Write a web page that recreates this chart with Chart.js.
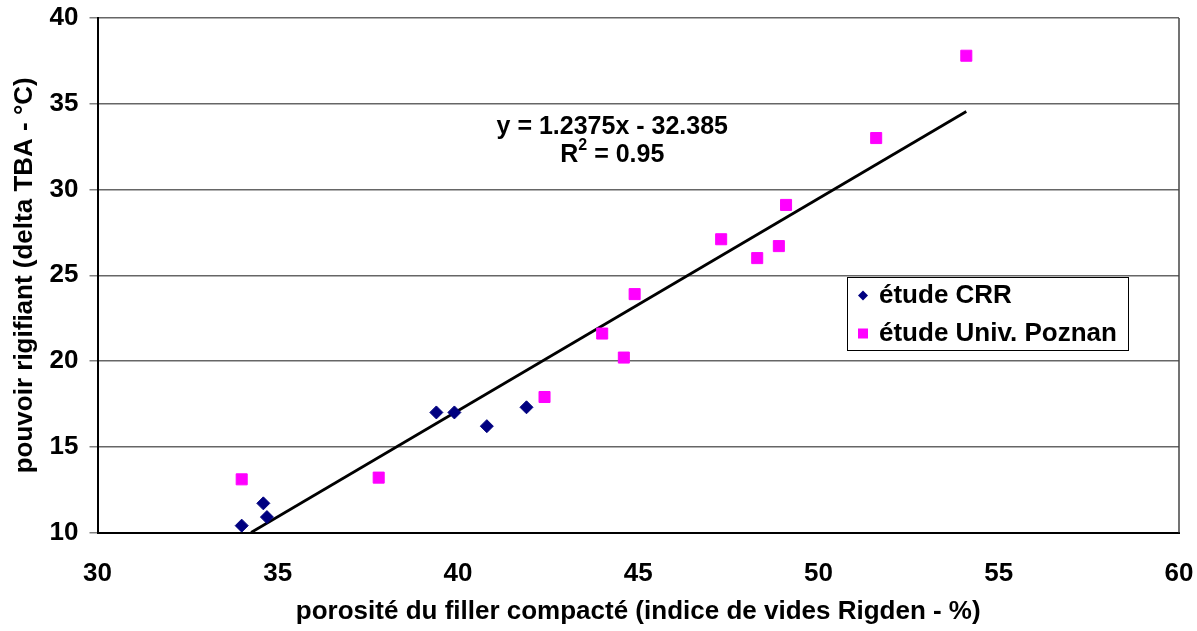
<!DOCTYPE html>
<html>
<head>
<meta charset="utf-8">
<script src="https://cdn.jsdelivr.net/npm/chart.js@4/dist/chart.umd.min.js"></script>
<style>
    html, body { margin: 0; padding: 0; background: #fff; }
    #wrap { width: 1197px; height: 631px; position: relative; }
</style>
</head>
<body>
<div id="wrap"><canvas id="chart"></canvas></div>
<script>
// Data
const crrX = [34.0, 34.6, 34.7, 39.4, 39.9, 40.8, 41.9];
const crrY = [10.4, 11.7, 10.9, 17.0, 17.0, 16.2, 17.3];

const poznanX = [34.0, 37.8, 42.4, 44.0, 44.6, 44.9, 47.3, 48.3, 48.9, 49.1, 51.6, 54.1];
const poznanY = [13.1, 13.2, 17.9, 21.6, 20.2, 23.9, 27.1, 26.0, 26.7, 29.1, 33.0, 37.8];

// linear trend end points
const trendX = [34.26, 54.1];
const trendY = [10.0, 34.55];

const xTicks = [30, 35, 40, 45, 50, 55, 60];
const yTicks = [10, 15, 20, 25, 30, 35, 40];

const seriesNames = ['étude CRR', 'étude Univ. Poznan'];
const equationLines = ['y = 1.2375x - 32.385', 'R', '2', ' = 0.95'];

const toPoints = (xs, ys) => xs.map((x, i) => ({ x: x, y: ys[i] }));

const FONT = "'Liberation Sans', Arial, sans-serif";

// Equation label + legend box, drawn after datasets
const overlay = {
    id: 'overlay',
    afterDraw(chart) {
        const ctx = chart.ctx;
        const xs = chart.scales.x, ys = chart.scales.y;
        ctx.save();
        ctx.fillStyle = '#000';
        ctx.font = 'bold 25px ' + FONT;
        ctx.textAlign = 'center';
        ctx.textBaseline = 'middle';
        const cx = xs.getPixelForValue(44.28);
        ctx.fillText(equationLines[0], cx, ys.getPixelForValue(33.65));

        // R² line with superscript
        const y2 = ys.getPixelForValue(31.98);
        const wR = ctx.measureText(equationLines[1]).width;
        const wRest = ctx.measureText(equationLines[3]).width;
        ctx.font = 'bold 16px ' + FONT;
        const wSup = ctx.measureText(equationLines[2]).width;
        let left = cx - (wR + wSup + wRest) / 2;
        ctx.textAlign = 'left';
        ctx.font = 'bold 25px ' + FONT;
        ctx.fillText(equationLines[1], left, y2);
        ctx.font = 'bold 16px ' + FONT;
        ctx.fillText(equationLines[2], left + wR, y2 - 10);
        ctx.font = 'bold 25px ' + FONT;
        ctx.fillText(equationLines[3], left + wR + wSup, y2);

        // legend
        const bx = 847.5, by = 277.5, bw = 281, bh = 73;
        ctx.fillStyle = '#fff';
        ctx.fillRect(bx, by, bw, bh);
        ctx.strokeStyle = '#000';
        ctx.lineWidth = 1;
        ctx.strokeRect(bx, by, bw, bh);

        const rows = [by + 18, by + 56];
        // diamond
        ctx.fillStyle = '#000080';
        ctx.beginPath();
        ctx.moveTo(863, rows[0] - 5);
        ctx.lineTo(868, rows[0]);
        ctx.lineTo(863, rows[0] + 5);
        ctx.lineTo(858, rows[0]);
        ctx.closePath();
        ctx.fill();
        // square
        ctx.fillStyle = '#ff00ff';
        ctx.fillRect(858, rows[1] - 5, 10, 10);

        ctx.fillStyle = '#000';
        ctx.font = 'bold 26px ' + FONT;
        ctx.textAlign = 'left';
        ctx.fillText(seriesNames[0], 879, rows[0]);
        ctx.fillText(seriesNames[1], 879, rows[1]);
        ctx.restore();
    }
};

const chart = new Chart(document.getElementById('chart'), {
    type: 'scatter',
    data: {
        datasets: [{
            label: seriesNames[0],
            data: toPoints(crrX, crrY),
            pointStyle: 'rectRot',
            pointRadius: 6.5,
            pointHoverRadius: 6.5,
            backgroundColor: '#000080',
            borderColor: '#000080',
            borderWidth: 1
        }, {
            label: seriesNames[1],
            data: toPoints(poznanX, poznanY),
            pointStyle: 'rect',
            pointRadius: 7.8,
            pointHoverRadius: 7.8,
            backgroundColor: '#ff00ff',
            borderColor: '#ff00ff',
            borderWidth: 1
        }, {
            label: 'trend',
            data: toPoints(trendX, trendY),
            showLine: true,
            pointRadius: 0,
            borderColor: '#000',
            borderWidth: 2.8
        }]
    },
    options: {
        responsive: true,
        maintainAspectRatio: false,
        animation: false,
        layout: { padding: { top: 18, right: 18, left: 0, bottom: 0 } },
        plugins: {
            legend: { display: false },
            tooltip: { enabled: false }
        },
        scales: {
            x: {
                type: 'linear',
                min: 30, max: 60,
                afterBuildTicks: s => { s.ticks = xTicks.map(v => ({ value: v })); },
                afterFit: s => { s.height = 98.5; s.paddingLeft = 0; s.paddingRight = 0; },
                grid: { display: false, drawOnChartArea: false, tickLength: 8, tickColor: '#808080', tickWidth: 1.5 },
                border: { color: '#000', width: 2 },
                ticks: { color: '#000', padding: 18, font: { family: FONT, size: 26, weight: 'bold' } },
                title: {
                    display: true,
                    text: 'porosité du filler compacté (indice de vides Rigden - %)',
                    color: '#000',
                    font: { family: FONT, size: 26, weight: 'bold' },
                    padding: { top: 0, bottom: 4 }
                }
            },
            y: {
                type: 'linear',
                min: 10, max: 40,
                afterBuildTicks: s => { s.ticks = yTicks.map(v => ({ value: v })); },
                afterFit: s => { s.width = 97.5; s.paddingTop = 0; s.paddingBottom = 0; },
                grid: { color: '#666', lineWidth: 1.5, tickLength: 8, tickColor: '#808080' },
                border: { color: '#000', width: 2 },
                ticks: { color: '#000', padding: 11, font: { family: FONT, size: 26, weight: 'bold' } },
                title: {
                    display: true,
                    text: 'pouvoir rigifiant (delta TBA - °C)',
                    color: '#000',
                    font: { family: FONT, size: 26, weight: 'bold' },
                    padding: { top: 9, bottom: 0 }
                }
            }
        }
    },
    plugins: [overlay, {
        // right frame edge
        id: 'frame',
        afterDatasetsDraw(chart) {
            const a = chart.chartArea, ctx = chart.ctx;
            ctx.save();
            ctx.strokeStyle = '#444';
            ctx.lineWidth = 1.5;
            ctx.beginPath();
            ctx.moveTo(a.right, a.top);
            ctx.lineTo(a.right, a.bottom);
            ctx.stroke();
            ctx.restore();
        }
    }]
});
</script>
</body>
</html>
